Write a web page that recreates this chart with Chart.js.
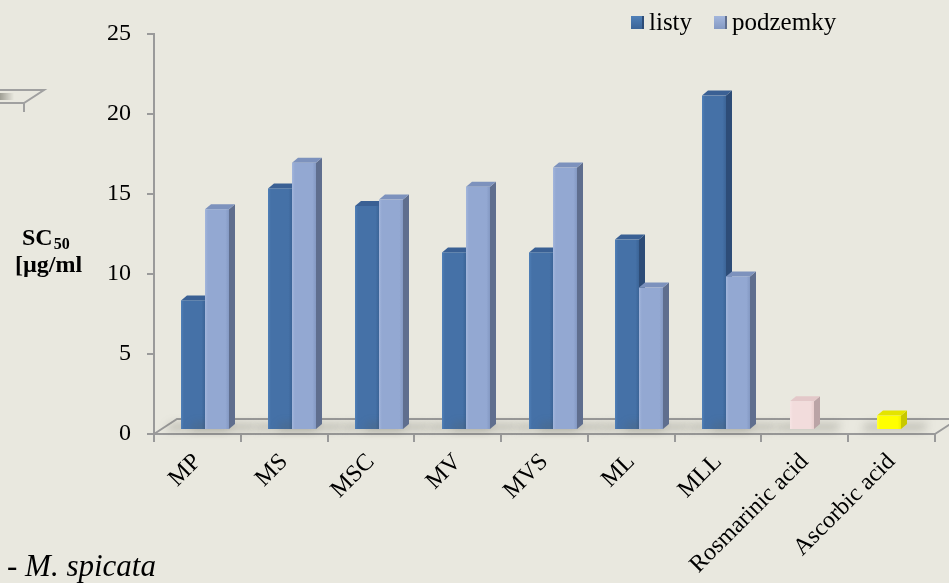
<!DOCTYPE html>
<html>
<head>
<meta charset="utf-8">
<script src="https://cdn.jsdelivr.net/npm/chart.js@4/dist/chart.umd.min.js"></script>
<style>
  html, body { margin: 0; padding: 0; background: #E9E8DF; }
  #wrap { width: 949px; height: 583px; position: relative; }
</style>
</head>
<body>
<div id="wrap"><canvas id="c" width="949" height="583"></canvas></div>
<script>
// SC50 values [µg/ml] per extract (leaves / rhizomes) and reference antioxidants
const categories = ['MP', 'MS', 'MSC', 'MV', 'MVS', 'ML', 'MLL', 'Rosmarinic acid', 'Ascorbic acid'];
const listy      = [8.1, 15.1, 14.0, 11.1, 11.1, 11.9, 20.9, null, null];
const podzemky   = [13.8, 16.7, 14.4, 15.2, 16.4, 8.9, 9.6, null, null];
const standards  = [null, null, null, null, null, null, null, 1.8, 0.9];
const yTicks     = [0, 5, 10, 15, 20, 25];

const SERIF = '"Liberation Serif", "Times New Roman", serif';
const AXIS_GRAY = '#9A9A9A';

// colour sets for the 3-D columns: front, top, side
const LISTY_COL = { front: '#4571A7', light: '#5080B8', dark: '#3B6497', top: '#3A6094', side: '#2D4C77' };
const PODZ_COL  = { front: '#93A8D2', light: '#A3B6DC', dark: '#8499C3', top: '#7D92BD', side: '#5F6E8E' };
const STD_COLS  = [null, null, null, null, null, null, null,
  { front: '#F2DCDC', light: '#F6E4E4', dark: '#EACFCF', top: '#E3C8C9', side: '#BBA4A6' },
  { front: '#FFFF00', light: '#FFFF40', dark: '#F2F200', top: '#E4E400', side: '#C8C800' }];

// depth of the column prisms and their placement on the floor
const DEPTH_X = 6, DEPTH_Y = 5, FLOOR_RISE = 4;
const FLOOR_DX = 23, FLOOR_DY = 15;

function drawColumn(ctx, x0, x1, yTop, yBot, c) {
  // soft shadow on the floor
  ctx.save();
  ctx.filter = 'blur(4px)';
  ctx.fillStyle = 'rgba(90,90,80,0.28)';
  ctx.beginPath();
  ctx.moveTo(x0 - 16, yBot + 2);
  ctx.lineTo(x1 + 22, yBot + 2);
  ctx.lineTo(x1 + 28, yBot - 6);
  ctx.lineTo(x0 - 10, yBot - 6);
  ctx.closePath();
  ctx.fill();
  ctx.restore();

  // side face
  ctx.fillStyle = c.side;
  ctx.beginPath();
  ctx.moveTo(x1, yTop);
  ctx.lineTo(x1 + DEPTH_X, yTop - DEPTH_Y);
  ctx.lineTo(x1 + DEPTH_X, yBot - DEPTH_Y);
  ctx.lineTo(x1, yBot);
  ctx.closePath();
  ctx.fill();

  // top face
  ctx.fillStyle = c.top;
  ctx.beginPath();
  ctx.moveTo(x0, yTop);
  ctx.lineTo(x0 + DEPTH_X, yTop - DEPTH_Y);
  ctx.lineTo(x1 + DEPTH_X, yTop - DEPTH_Y);
  ctx.lineTo(x1, yTop);
  ctx.closePath();
  ctx.fill();

  // front face with a slight bevel
  const g = ctx.createLinearGradient(x0, 0, x1, 0);
  g.addColorStop(0, c.light);
  g.addColorStop(0.12, c.front);
  g.addColorStop(0.85, c.front);
  g.addColorStop(1, c.dark);
  ctx.fillStyle = g;
  ctx.fillRect(x0, yTop, x1 - x0, yBot - yTop);
}

const columns3d = {
  id: 'columns3d',
  beforeDatasetsDraw(chart) {
    const ctx = chart.ctx;
    const { left, right, bottom } = chart.chartArea;
    const W = chart.width;

    // floor outline (front edge is the x-axis border)
    ctx.save();
    ctx.strokeStyle = AXIS_GRAY;
    ctx.lineWidth = 2;
    ctx.beginPath();
    ctx.moveTo(left, bottom);
    ctx.lineTo(left + FLOOR_DX, bottom - FLOOR_DY);
    ctx.lineTo(W + 5, bottom - FLOOR_DY);
    ctx.moveTo(right, bottom);
    ctx.lineTo(right + FLOOR_DX, bottom - FLOOR_DY);
    ctx.stroke();
    ctx.restore();

    chart.data.datasets.forEach((ds, di) => {
      const meta = chart.getDatasetMeta(di);
      meta.data.forEach((el, i) => {
        if (ds.data[i] == null) return;
        const p = el.getProps(['x', 'y', 'base', 'width'], true);
        const cx = p.x + ds.depthShift;
        const x0 = Math.round(cx - p.width / 2), x1 = Math.round(cx + p.width / 2);
        const cols = Array.isArray(ds.prism) ? ds.prism[i] : ds.prism;
        drawColumn(ctx, x0, x1, p.y - FLOOR_RISE, p.base - FLOOR_RISE, cols);
      });
    });
    return false;
  },
  afterDraw(chart) {
    const ctx = chart.ctx;
    ctx.save();
    ctx.fillStyle = '#000';
    ctx.textBaseline = 'alphabetic';

    // axis title
    ctx.font = 'bold 24px ' + SERIF;
    ctx.fillText('SC', 22, 245);
    const scW = ctx.measureText('SC').width;
    ctx.font = 'bold 16px ' + SERIF;
    ctx.fillText('50', 22 + scW + 1, 249);
    ctx.font = 'bold 24px ' + SERIF;
    ctx.fillText('[µg/ml', 15, 272);

    // legend
    ctx.font = '25px ' + SERIF;
    const items = [
      { label: chart.data.datasets[0].label, c: LISTY_COL, x: 631 },
      { label: chart.data.datasets[1].label, c: PODZ_COL, x: 714 }
    ];
    items.forEach(it => {
      const g = ctx.createLinearGradient(0, 16, 0, 29);
      g.addColorStop(0, it.c.light);
      g.addColorStop(1, it.c.dark);
      ctx.fillStyle = g;
      ctx.fillRect(it.x, 16, 13, 13);
      ctx.fillStyle = it.c.side;
      ctx.fillRect(it.x + 11, 16, 2, 13);
      ctx.fillStyle = '#000';
      ctx.fillText(it.label, it.x + 18, 30);
    });

    // species note
    ctx.font = 'italic 31px ' + SERIF;
    ctx.fillText('- M. spicata', 7, 576);

    // edge of a neighbouring floor outline
    ctx.strokeStyle = '#A0A0A0';
    ctx.lineWidth = 2;
    ctx.beginPath();
    ctx.moveTo(0, 90); ctx.lineTo(44, 90); ctx.lineTo(24, 103); ctx.lineTo(0, 103);
    ctx.moveTo(24, 103); ctx.lineTo(24, 112);
    ctx.stroke();
    const gg = ctx.createLinearGradient(0, 0, 14, 0);
    gg.addColorStop(0, 'rgba(140,140,130,0.8)');
    gg.addColorStop(1, 'rgba(140,140,130,0)');
    ctx.fillStyle = gg;
    ctx.fillRect(0, 93, 14, 7);
    ctx.restore();
  }
};

new Chart(document.getElementById('c'), {
  type: 'bar',
  data: {
    labels: categories,
    datasets: [
      { label: 'listy', data: listy, backgroundColor: LISTY_COL.front, prism: LISTY_COL,
        depthShift: 8, barThickness: 24 },
      { label: 'podzemky', data: podzemky, backgroundColor: PODZ_COL.front, prism: PODZ_COL,
        depthShift: 8, barThickness: 24 },
      { label: 'standard', data: standards, backgroundColor: '#ccc', prism: STD_COLS,
        depthShift: -3, grouped: false, maxBarThickness: 24 }
    ]
  },
  options: {
    responsive: false,
    devicePixelRatio: 1,
    animation: false,
    layout: { padding: { top: 34, right: 14, bottom: 0, left: 0 } },
    plugins: { legend: { display: false }, tooltip: { enabled: false } },
    scales: {
      x: {
        offset: true,
        grid: { display: true, drawOnChartArea: false, offset: true, tickLength: 8,
                color: AXIS_GRAY, lineWidth: 2 },
        border: { display: true, color: AXIS_GRAY, width: 2 },
        ticks: { autoSkip: false, minRotation: 45, maxRotation: 45, padding: 6,
                 color: '#000', font: { family: SERIF, size: 24 } },
        afterFit(scale) { scale.height = 149; }
      },
      y: {
        min: 0, max: 25,
        afterBuildTicks(scale) { scale.ticks = yTicks.map(v => ({ value: v })); },
        grid: { display: true, drawOnChartArea: false, tickLength: 7,
                color: AXIS_GRAY, lineWidth: 2 },
        border: { display: true, color: AXIS_GRAY, width: 2 },
        ticks: { padding: 16, color: '#000', font: { family: SERIF, size: 24 } },
        afterFit(scale) { scale.width = 154; }
      }
    }
  },
  plugins: [columns3d]
});
</script>
</body>
</html>
